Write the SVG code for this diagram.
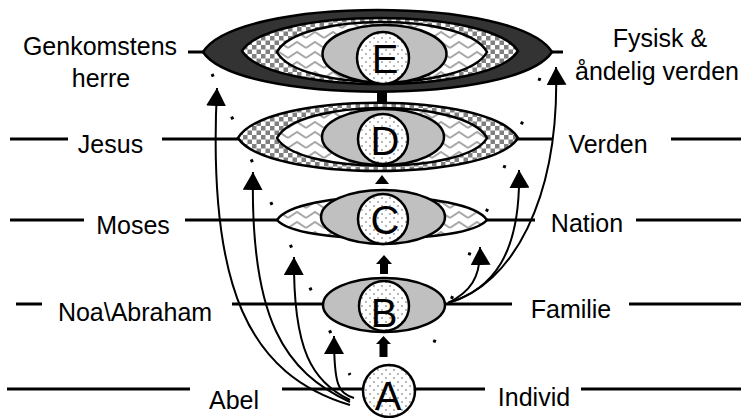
<svg xmlns="http://www.w3.org/2000/svg" width="741" height="418" viewBox="0 0 741 418">
<style>
text{font-family:"Liberation Sans",Arial,sans-serif;fill:#000}
.lbl{font-size:25px;text-anchor:middle}
.let{font-size:40px;text-anchor:middle}
.ol{stroke:#000;stroke-width:2.5}
.lv{stroke:#000;stroke-width:3;fill:none}
.cn{stroke:#000;stroke-width:2;fill:none;marker-end:url(#ah)}
.dot{stroke:#000;stroke-width:3;fill:none;stroke-dasharray:3 44}
</style>
<defs>
<pattern id="chk" width="9" height="9" patternUnits="userSpaceOnUse"><rect width="9" height="9" fill="#fff"/><rect width="4.5" height="4.5" fill="#808080"/><rect x="4.5" y="4.5" width="4.5" height="4.5" fill="#808080"/></pattern>
<pattern id="zz" width="18" height="10" patternUnits="userSpaceOnUse"><rect width="18" height="10" fill="#fff"/><path d="M0 8L9 2L18 8" fill="none" stroke="#a8a8a8" stroke-width="2"/></pattern>
<pattern id="dots" width="8" height="8" patternUnits="userSpaceOnUse"><rect width="8" height="8" fill="#fff"/><rect x="1" y="1" width="2" height="2" fill="#b8b8b8"/><rect x="5" y="5" width="2" height="2" fill="#b8b8b8"/></pattern>
<marker id="ah" viewBox="0 0 18 20" markerWidth="18" markerHeight="20" refX="18" refY="10" orient="auto" markerUnits="userSpaceOnUse"><path d="M0 0L18 10L0 20Z" fill="#000"/></marker>
</defs>

<g id="funnel">
<path class="dot" d="M212 74L350 375"/>
<path class="dot" d="M540 78L423 370"/>
</g>

<g id="levels">
<path class="lv" d="M188 52H205M550 52H563"/>
<path class="lv" d="M10 139H68M162 139H240M516 139H552M671 139H741"/>
<path class="lv" d="M10 220H84M185 220H279M485 220H535M636 220H741"/>
<path class="lv" d="M16 304H42M232 304H324M444 304H512M629 304H741"/>
<path class="lv" d="M7 389H190M282 389H364M414 389H485M581 389H741"/>
</g>

<g id="connectors">
<path class="cn" d="M350 405C250 375 207 290 217 88"/>
<path class="cn" d="M350 402C285 372 250 320 253 172"/>
<path class="cn" d="M350 400C312 382 293 350 294 257"/>
<path class="cn" d="M354 398C338 393 334 385 334 336"/>
<path class="cn" d="M448 303C512 285 560 200 556 67"/>
<path class="cn" d="M448 303C492 290 521 255 519 170"/>
<path class="cn" d="M448 303C470 292 481 278 480 247"/>
<rect x="377" y="90" width="10" height="13" fill="#000"/>
<path d="M375 184L382 175L389 184Z" fill="#000"/>
<path d="M376 264L384 255L392 264Z" fill="#000"/>
<rect x="380" y="263" width="8" height="11" fill="#000"/>
<path d="M376 344L383.5 336L391 344Z" fill="#000"/>
<rect x="379.5" y="343" width="8" height="14" fill="#000"/>
</g>

<g id="node-E">
<path class="ol" fill="#333" d="M203 52C238 -4 517 -4 552 52C517 105 238 105 203 52Z"/>
<path class="ol" fill="url(#chk)" d="M242 51C270 7 490 7 518 51C490 95 270 95 242 51Z"/>
<path class="ol" fill="url(#zz)" d="M277 52C298 12 466 12 487 52C466 92 298 92 277 52Z"/>
<ellipse class="ol" fill="#c0c0c0" cx="384.5" cy="54" rx="62" ry="29"/>
<circle class="ol" fill="url(#dots)" cx="383" cy="58" r="26"/>
<text class="let" x="385" y="73">E</text>
</g>

<g id="node-D">
<path class="ol" fill="url(#chk)" d="M238 138C266 91 490 91 518 138C490 182 266 182 238 138Z"/>
<path class="ol" fill="url(#zz)" d="M277 138C298 98 466 98 487 138C466 175 298 175 277 138Z"/>
<ellipse class="ol" fill="#c0c0c0" cx="383" cy="137" rx="61" ry="28"/>
<circle class="ol" fill="url(#dots)" cx="383" cy="139" r="25"/>
<text class="let" x="385" y="155">D</text>
</g>

<g id="node-C">
<path class="ol" fill="url(#zz)" d="M277 220C298 189 466 189 487 220C466 245 298 245 277 220Z"/>
<ellipse class="ol" fill="#c0c0c0" cx="383" cy="217" rx="62" ry="27"/>
<circle class="ol" fill="url(#dots)" cx="383" cy="219" r="25"/>
<text class="let" x="385" y="234">C</text>
</g>

<g id="node-B">
<ellipse class="ol" fill="#c0c0c0" cx="384" cy="305" rx="61" ry="27"/>
<circle class="ol" fill="url(#dots)" cx="384" cy="306" r="25"/>
<text class="let" x="384" y="327">B</text>
</g>

<g id="node-A">
<circle class="ol" fill="url(#dots)" cx="389" cy="391" r="26"/>
<text class="let" x="388" y="410">A</text>
</g>

<g id="labels">
<text class="lbl" x="100" y="55">Genkomstens</text>
<text class="lbl" x="101" y="87">herre</text>
<text class="lbl" x="660" y="47">Fysisk &amp;</text>
<text class="lbl" x="657" y="80">åndelig verden</text>
<text class="lbl" x="110.5" y="153">Jesus</text>
<text class="lbl" x="608" y="153">Verden</text>
<text class="lbl" x="133" y="234">Moses</text>
<text class="lbl" x="587" y="232">Nation</text>
<text class="lbl" x="135" y="321">Noa\Abraham</text>
<text class="lbl" x="571" y="318">Familie</text>
<text class="lbl" x="234" y="409">Abel</text>
<text class="lbl" x="534" y="406">Individ</text>
</g>
</svg>
